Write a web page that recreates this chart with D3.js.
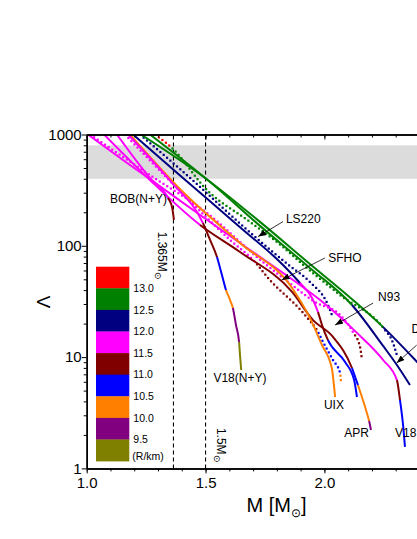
<!DOCTYPE html>
<meta charset="utf-8">
<head>
<script src="https://d3js.org/d3.v7.min.js"></script>
<style>
body { margin: 0; background: #fff; }
svg { font-family: "Liberation Sans", Arial, Helvetica, sans-serif; }
.axis path, .axis line { stroke: #000; }
.axis path { stroke-width: 1.5; }
.axis text { font-size: 15px; fill: #000; }
</style>
</head>
<body>
<script>

// radius bins of the colour bar (km) and their colours
var rBreaks = [9.5, 10.0, 10.5, 11.0, 11.5, 12.0, 12.5, 13.0];
var rColors = ["#808000", "#800080", "#ff8000", "#0000ff", "#800000", "#ff00ff", "#000080", "#008000", "#ff0000"];

// each point: [M (Msun), Lambda, R (km)]
var bob   = [[1.228,1000,12.9],[1.498,407,12.85],[1.729,164,12.8],[1.939,68.6,12.7],[2.120,32.6,12.6],[2.247,18.6,12.5],[2.390,9.04,12.3],[2.507,4.86,12.2]];
var dbhf  = [[1.266,1000,12.9],[1.519,374,12.85],[1.729,151,12.8],[1.939,63.2,12.7],[2.116,29.4,12.5],[2.247,12.6,12.35],[2.305,8.49,12.25],[2.360,5.61,12.15]];
var v18   = [[1.005,1000,11.9],[1.170,555,11.85],[1.283,374,11.85],[1.477,189,11.8],[1.687,91.7,11.8],[1.868,49.3,11.75],[1.982,32.6,11.7],[2.137,16.5,11.65],[2.247,9.42,11.6],[2.305,6.22,11.5],[2.318,4.12,11.0],[2.331,2.45,10.8],[2.339,1.56,10.7]];
var apr   = [[1.073,1000,11.9],[1.266,390,11.8],[1.477,154,11.5],[1.645,88.0,11.4],[1.864,38.5,11.3],[1.952,21.5,11.25],[2.036,15.2,11.2],[2.116,7.98,11.0],[2.141,5.61,10.5],[2.175,3.35,10.3],[2.188,2.67,10.0],[2.196,2.21,9.8]];
var uix   = [[1.182,1000,10.3],[1.405,304,10.3],[1.645,106,10.3],[1.864,41.8,10.25],[1.939,22.5,10.2],[1.990,12.8,10.2],[2.031,7.98,10.15],[2.045,4.38,10.1]];
var n93   = [[1.195,1000,12.4],[1.405,407,12.35],[1.645,147,12.3],[1.826,67.2,12.15],[1.897,46.3,12.0],[1.948,34.0,11.8],[1.973,25.4,11.5],[1.990,19.4,11.2],[2.015,14.2,11.0],[2.087,9.04,10.85],[2.125,6.22,10.75],[2.137,4.38,10.7]];
var bobNY = [[1.127,1000,11.9],[1.266,407,11.8],[1.342,269,11.5],[1.359,223,11.3],[1.367,171,11.1]];
var v18NY = [[1.174,1000,11.9],[1.266,615,11.85],[1.359,367,11.8],[1.489,160,11.5],[1.519,113,11.3],[1.548,79.3,11.0],[1.569,54.6,10.8],[1.586,40.1,10.5],[1.603,32.6,10.3],[1.615,27.6,10.0],[1.628,19.4,9.8],[1.641,13.7,9.5],[1.645,10.4,9.3],[1.650,7.66,9.2]];

// dotted ones
var ls220 = [[1.224,1000,12.45],[1.435,407,12.4],[1.666,144.5,12.35],[1.763,95.5,12.3],[1.855,65.8,12.25],[1.939,47.3,12.2],[2.015,29.4,12.1],[2.036,22.5,12.05]];
var dd2   = [[1.287,1000,13.2],[1.359,756,13.0],[1.506,317,12.8],[1.687,164,12.75],[1.826,97.5,12.7],[1.897,71.5,12.65],[2.066,36.1,12.55],[2.255,17.5,12.5],[2.284,14.2,12.35],[2.305,10.4,12.25]];
var sfho  = [[1.161,1000,11.9],[1.405,292,11.8],[1.603,113,11.6],[1.708,71.5,11.5],[1.763,51.4,11.3],[1.918,23.9,11.15],[1.973,16.8,11.0],[1.994,13.7,10.85],[2.036,9.42,10.7],[2.066,7.20,10.5],[2.070,5.85,10.3]];
var sfhx  = [[1.014,1000,11.9],[1.266,432,11.85],[1.506,197,11.85],[1.721,77.7,11.8],[1.864,44.4,11.75],[1.960,31.3,11.7],[2.066,23.9,11.65],[2.120,16.8,11.5],[2.150,12.3,11.3],[2.158,9.42,11.2]];

var solidCurves = [bob, dbhf, v18, apr, uix, n93, bobNY, v18NY];
var dottedCurves = [ls220, dd2, sfho, sfhx];

// constraint band and reference masses
var band = [400, 800];
var refMasses = [1.365, 1.5];

// tick values
var xLabelled = [1.0, 1.5, 2.0];
var xMajor = [1.0, 1.5, 2.0, 2.5];
var yMajor = [1, 10, 100, 1000];

// annotations
var labels = [
  {t: "BOB(N+Y)", m: 1.098, l: 242},
  {t: "LS220", m: 1.838, l: 160},
  {t: "SFHO", m: 2.016, l: 71.9},
  {t: "N93", m: 2.226, l: 31.9},
  {t: "DD2", m: 2.367, l: 16.5},
  {t: "V18(N+Y)", m: 1.533, l: 5.97},
  {t: "UIX", m: 1.998, l: 3.42},
  {t: "APR", m: 2.084, l: 1.93},
  {t: "V18", m: 2.297, l: 1.93}
];
var arrows = [
  [[1.826, 165], [1.721, 121]],
  [[2.002, 77.7], [1.820, 49.3]],
  [[2.205, 30.6], [2.045, 19.4]],
  [[2.388, 12.8], [2.304, 8.85]]
];

// dimensions
var margin = {top: 134.5, left: 86.7},
    width = 356.55,
    height = 333.9;

var x = d3.scaleLinear().domain([1, 2.5]).range([0, width]);
var y = d3.scaleLog().domain([1, 1000]).range([height, 0]);
var rColor = d3.scaleThreshold().domain(rBreaks).range(rColors);

var svg = d3.select("body").append("svg")
    .attr("width", 417)
    .attr("height", 539);

var defs = svg.append("defs");
defs.append("clipPath").attr("id", "plot")
  .append("rect").attr("width", width).attr("height", height);
defs.append("marker")
    .attr("id", "head")
    .attr("markerUnits", "userSpaceOnUse")
    .attr("viewBox", "0 0 8 6")
    .attr("refX", 8).attr("refY", 3)
    .attr("markerWidth", 8).attr("markerHeight", 6)
    .attr("orient", "auto")
  .append("path").attr("d", "M0,0L8,3L0,6z").attr("fill", "#000");

var g = svg.append("g")
    .attr("transform", "translate(" + margin.left + "," + margin.top + ")");

// grey band
g.append("rect")
    .attr("x", x(1)).attr("width", x(2.5) - x(1))
    .attr("y", y(band[1])).attr("height", y(band[0]) - y(band[1]))
    .attr("fill", "#dcdcdc");

// dashed reference lines
g.selectAll(".ref").data(refMasses).enter().append("line")
    .attr("x1", d => x(d)).attr("x2", d => x(d))
    .attr("y1", y(1)).attr("y2", y(1000))
    .attr("stroke", "#000").attr("stroke-width", 1.1)
    .attr("stroke-dasharray", "4,3");

// split a curve into pieces of one colour (by index)
function runs(pts) {
  var out = [], cur = null;
  for (var i = 0; i < pts.length - 1; i++) {
    var c = rColor((pts[i][2] + pts[i + 1][2]) / 2);
    if (cur && cur.c === c) cur.i1 = i + 1;
    else { cur = {c: c, i0: i, i1: i + 1}; out.push(cur); }
  }
  return out;
}

var line = d3.line()
    .x(d => x(d[0]))
    .y(d => y(d[1]))
    .curve(d3.curveMonotoneX);

// path length at which the path reaches a given x
function lengthAtX(node, total, px) {
  var lo = 0, hi = total;
  for (var k = 0; k < 30; k++) {
    var mid = (lo + hi) / 2;
    if (node.getPointAtLength(mid).x < px) lo = mid; else hi = mid;
  }
  return (lo + hi) / 2;
}

var curves = g.append("g").attr("clip-path", "url(#plot)");

function measure(pts) {
  var p = curves.append("path").attr("d", line(pts)).attr("fill", "none");
  var node = p.node(), total = node.getTotalLength();
  var lens = pts.map(d => lengthAtX(node, total, x(d[0])));
  lens[0] = 0; lens[lens.length - 1] = total;
  return {path: p, node: node, total: total, lens: lens};
}

dottedCurves.forEach(function(c) {
  var m = measure(c), rs = runs(c);
  m.path.remove();
  var dots = [];
  for (var l = 0.5; l < m.total; l += 4.4) {
    var r = rs.find(r => l >= m.lens[r.i0] && l <= m.lens[r.i1]) || rs[rs.length - 1];
    var pt = m.node.getPointAtLength(l);
    dots.push({x: pt.x, y: pt.y, c: r.c});
  }
  curves.selectAll(null).data(dots).enter().append("rect")
      .attr("x", d => d.x - 1.1).attr("y", d => d.y - 1.1)
      .attr("width", 2.2).attr("height", 2.2)
      .attr("fill", d => d.c);
});

solidCurves.forEach(function(c) {
  var m = measure(c), d = line(c);
  m.path.remove();
  curves.selectAll(null).data(runs(c)).enter().append("path")
      .attr("d", d)
      .attr("fill", "none")
      .attr("stroke", r => r.c)
      .attr("stroke-width", 2)
      .attr("stroke-dasharray", r => (m.lens[r.i1] - m.lens[r.i0] + 0.3) + "," + (m.total * 2))
      .attr("stroke-dashoffset", r => -m.lens[r.i0]);
});

// axes
var xMinor = d3.range(10, 26).map(d => d / 10);
var yMinor = [];
[1, 10, 100].forEach(function(b) { for (var k = 2; k < 10; k++) yMinor.push(b * k); });

g.append("g").attr("class", "axis")
    .attr("transform", "translate(0," + height + ")")
    .call(d3.axisBottom(x).tickValues(xMinor).tickSize(3).tickSizeOuter(0).tickFormat(""));
g.append("g").attr("class", "axis")
    .attr("transform", "translate(0," + height + ")")
    .call(d3.axisBottom(x).tickValues(xLabelled).tickSize(5).tickSizeOuter(0).tickPadding(4)
      .tickFormat(d3.format(".1f")));

g.append("g").attr("class", "axis")
    .call(d3.axisTop(x).tickValues(xMinor).tickSize(-3).tickSizeOuter(0).tickFormat(""));
g.append("g").attr("class", "axis")
    .call(d3.axisTop(x).tickValues(xMajor).tickSize(-5).tickSizeOuter(0).tickFormat(""));

g.append("g").attr("class", "axis")
    .call(d3.axisLeft(y).tickValues(yMinor).tickSize(3).tickSizeOuter(0).tickFormat(""));
g.append("g").attr("class", "axis")
    .call(d3.axisLeft(y).tickValues(yMajor).tickSize(5).tickSizeOuter(0).tickPadding(0)
      .tickFormat(d3.format("d")));

g.selectAll(".axis text").style("font-family", "Liberation Sans, Arial, sans-serif");

// axis titles
var xt = svg.append("text")
    .attr("x", 276.5).attr("y", 512)
    .attr("text-anchor", "middle")
    .style("font-size", "20px");
xt.append("tspan").text("M [M");
xt.append("tspan").attr("dy", 5).style("font-size", "12px").text("\u2299");
xt.append("tspan").attr("dy", -5).text("]");

svg.append("text")
    .attr("transform", "translate(50,302) rotate(-90)")
    .attr("text-anchor", "middle")
    .style("font-size", "19px")
    .text("\u039b");

// reference mass labels
function massLabel(m, l, txt) {
  var t = g.append("text")
      .attr("transform", "translate(" + x(m) + "," + y(l) + ") rotate(90)")
      .style("font-size", "12px");
  t.append("tspan").text(txt);
  t.append("tspan").attr("dy", 3).style("font-size", "9px").text("\u2299");
}
massLabel(1.300, 134, "1.365M");
massLabel(1.548, 2.31, "1.5M");

// curve labels and arrows
g.selectAll(".lab").data(labels).enter().append("text")
    .attr("x", d => x(d.m)).attr("y", d => y(d.l))
    .style("font-size", "12px")
    .text(d => d.t);

g.selectAll(".arr").data(arrows).enter().append("line")
    .attr("x1", d => x(d[0][0])).attr("y1", d => y(d[0][1]))
    .attr("x2", d => x(d[1][0])).attr("y2", d => y(d[1][1]))
    .attr("stroke", "#000").attr("stroke-width", 0.8)
    .attr("marker-end", "url(#head)");

// colour bar
var cb = {x: 96, y: 266.7, w: 33.3, h: 21.6};
var barColors = rColors.slice().reverse();
var barLabels = rBreaks.slice().reverse().map(d => d.toFixed(1));

svg.selectAll(".box").data(barColors).enter().append("rect")
    .attr("x", cb.x).attr("y", (d, i) => cb.y + i * cb.h)
    .attr("width", cb.w).attr("height", cb.h + 0.3)
    .attr("fill", d => d);

svg.selectAll(".blab").data(barLabels).enter().append("text")
    .attr("x", cb.x + cb.w + 4).attr("y", (d, i) => cb.y + (i + 1) * cb.h)
    .attr("dy", "0.35em")
    .style("font-size", "10.5px")
    .text(d => d);

svg.append("text")
    .attr("x", cb.x + cb.w + 3).attr("y", cb.y + 9 * cb.h - 5)
    .attr("dy", "0.35em")
    .style("font-size", "10.5px")
    .text("(R/km)");

</script>
</body>
